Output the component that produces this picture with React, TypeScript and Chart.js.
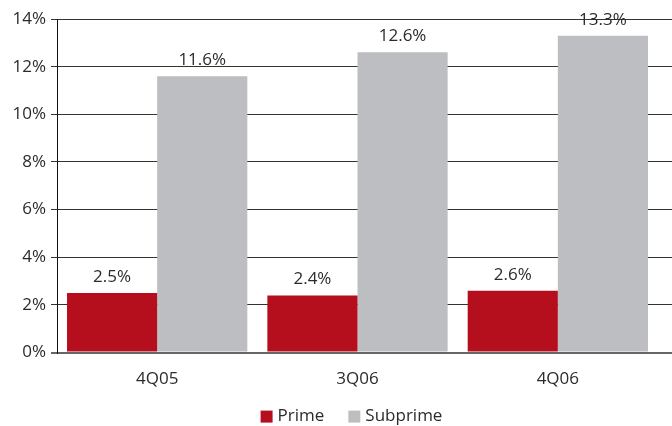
import React, { useEffect, useRef } from "react";
import { Chart, registerables } from "chart.js";

Chart.register(...registerables);

const quarters = ["4Q05", "3Q06", "4Q06"];
const primeRates = [2.5, 2.4, 2.6];
const subprimeRates = [11.6, 12.6, 13.3];
const seriesNames = ["Prime", "Subprime"];
const seriesColors = ["#b50f1e", "#bdbec1"];

const FONT = "'Open Sans', 'DejaVu Sans', sans-serif";
const TEXT = "#2b2b2b";
const SIZE = 17;

// Writes each bar's value above it.
const valueLabels = {
  id: "valueLabels",
  afterDatasetsDraw(chart: any) {
    const ctx = chart.ctx;
    ctx.save();
    ctx.font = `${SIZE}px ${FONT}`;
    ctx.fillStyle = TEXT;
    ctx.textAlign = "center";
    ctx.textBaseline = "alphabetic";
    chart.data.datasets.forEach((ds: any, i: number) => {
      const meta = chart.getDatasetMeta(i);
      meta.data.forEach((bar: any, j: number) => {
        ctx.fillText(`${Number(ds.data[j]).toFixed(1)}%`, bar.x, bar.y - 11);
      });
    });
    ctx.restore();
  },
};

// Carries the horizontal grid lines on to the right edge of the canvas.
const gridRun = {
  id: "gridRun",
  beforeDatasetsDraw(chart: any) {
    const { ctx, chartArea, scales } = chart;
    const y = scales.y;
    ctx.save();
    y.ticks.forEach((t: any) => {
      const w = t.value === 0 ? 2 : 1;
      const raw = y.getPixelForValue(t.value);
      const py = w % 2 ? Math.floor(raw) + 0.5 : Math.round(raw);
      ctx.strokeStyle = t.value === 0 ? "#666" : "#333";
      ctx.lineWidth = w;
      ctx.beginPath();
      ctx.moveTo(chartArea.right - 1, py);
      ctx.lineTo(chart.width, py);
      ctx.stroke();
    });
    ctx.restore();
  },
};

// Series key under the axis: square swatch, then the series name.
const seriesKey = {
  id: "seriesKey",
  afterDraw(chart: any) {
    const { ctx, chartArea } = chart;
    const box = 12;
    const gap = 5;
    const between = 24;
    ctx.save();
    ctx.font = `${SIZE}px ${FONT}`;
    const items = chart.data.datasets.map((ds: any) => ({
      label: ds.label as string,
      color: ds.backgroundColor as string,
      w: box + gap + ctx.measureText(ds.label).width,
    }));
    const total = items.reduce((s: number, it: any) => s + it.w, 0) + between * (items.length - 1);
    let x = (chartArea.left + chartArea.right) / 2 - 6 - total / 2;
    const cy = chartArea.bottom + 64;
    ctx.textBaseline = "middle";
    ctx.textAlign = "left";
    items.forEach((it: any) => {
      ctx.fillStyle = it.color;
      ctx.fillRect(x, cy - box / 2, box, box);
      ctx.fillStyle = TEXT;
      ctx.fillText(it.label, x + box + gap, cy);
      x += it.w + between;
    });
    ctx.restore();
  },
};

export default function App() {
  const ref = useRef<HTMLCanvasElement>(null);

  useEffect(() => {
    const chart = new Chart(ref.current!, {
      type: "bar",
      data: {
        labels: quarters,
        datasets: [
          { label: seriesNames[0], data: primeRates, backgroundColor: seriesColors[0] },
          { label: seriesNames[1], data: subprimeRates, backgroundColor: seriesColors[1] },
        ],
      },
      options: {
        animation: false,
        responsive: false,
        maintainAspectRatio: false,
        layout: { padding: { top: 19, right: 14, left: 0, bottom: 21 } },
        datasets: { bar: { categoryPercentage: 0.9, barPercentage: 1.0 } },
        scales: {
          x: {
            grid: { display: false, drawTicks: false },
            border: { display: false },
            ticks: { color: TEXT, font: { family: FONT, size: SIZE }, padding: 16 },
          },
          y: {
            min: 0,
            max: 14,
            afterFit(scale: any) {
              scale.width = 57;
            },
            ticks: {
              stepSize: 2,
              color: TEXT,
              padding: 5,
              font: { family: FONT, size: SIZE },
              callback: (v: any) => `${v}%`,
            },
            grid: {
              tickLength: 6,
              color: (c: any) => (c.tick && c.tick.value === 0 ? "#666" : "#333"),
              lineWidth: (c: any) => (c.tick && c.tick.value === 0 ? 2 : 1),
            },
            border: { display: true, color: "#111", width: 1 },
          },
        },
        plugins: {
          legend: { display: false },
          tooltip: { enabled: false },
        },
      },
      plugins: [gridRun, valueLabels, seriesKey],
    });
    return () => chart.destroy();
  }, []);

  return (
    <div style={{ position: "fixed", left: 0, top: 0, width: 672, height: 426, background: "#fff" }}>
      <canvas ref={ref} width={672} height={426} />
    </div>
  );
}
